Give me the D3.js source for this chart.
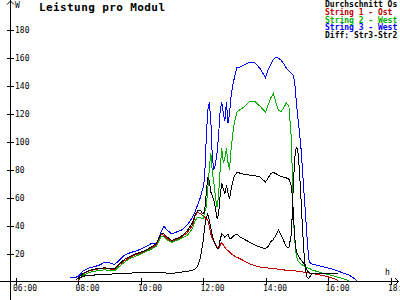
<!DOCTYPE html>
<html>
<head>
<meta charset="utf-8">
<script src="https://cdn.jsdelivr.net/npm/d3@7"></script>
<style>
  body { margin: 0; background: #fff; }
  svg { display: block; }
</style>
</head>
<body>
<script>
// data (W per module)
var times = ["07:45","07:50","07:55","08:00",
  "08:10","08:20","08:30","08:40","08:50","09:00","09:10","09:20","09:30","09:40","09:50",
  "10:00","10:10","10:20","10:30","10:35","10:40","10:45","10:50",
  "11:00","11:10","11:20","11:30","11:40","11:45","11:50","11:55","12:00",
  "12:03","12:06","12:09","12:12","12:15","12:18","12:21","12:24","12:27","12:30",
  "12:33","12:36","12:39","12:42","12:45","12:48","12:51","12:54","12:57",
  "13:00","13:05","13:10","13:20","13:30","13:40","13:50",
  "14:00","14:05","14:10","14:15","14:20","14:25","14:30","14:35","14:40","14:45",
  "14:50","14:53","14:56","14:59","15:02","15:05","15:08","15:11","15:14","15:17","15:20","15:23","15:26",
  "15:30","15:40","15:50","16:00","16:10","16:20","16:30","16:40","16:50","16:55"];

var string3 = [3,3,3,3.5,
  7.5,9.5,10.5,11.5,13.5,13.5,12,15.5,19,20.5,21.7,
  23,24.8,27,27,31,36,39.5,37,
  34,35.5,37,40.5,46,50,55,60,67,
  73,100,122,128,115,88,80,84,92,105,
  122,128,120,115,128,113,120,133,140,
  145,153,153,155,156.7,156,152,
  145.5,151,155,158.5,160,159.5,158,155.5,152.5,150.5,
  148.5,147.5,143,129,118,107,96,80,63,47,30,16,13,
  12.5,11.5,10.5,9.7,8.7,7.3,6,4.6,2.3,0.8];

var string2 = [null,null,null,1,
  4.5,6.3,7.2,7.8,8.3,8,7.6,11,14,16.4,18,
  19.5,21.2,23,25,28.5,32.5,32,30,
  28,29.5,31,33,38,43.6,46,45.5,44.5,
  49,53,65,80,92,78,70,60,53,62,
  80,95,85,88,95,85,80,95,105,
  113,121,122.5,125,128.8,128.5,125,
  121,126,131,134.5,128,122,121.5,124,127.5,125,
  100,50,30,19,15,13.5,12.5,11.8,11,10.5,10,9.5,9,
  8.2,7,6,5,4,3,2,0.5,null,null];

var string1 = [null,null,null,0.5,
  5.5,7.3,8.4,9,9,9,8.5,12.3,15,17.2,19,
  20.2,22,24,26,29.5,33.5,33,31,
  28.6,30.2,32,35,40,47,49.5,48.5,47,
  46,45,44,40,34,30.5,28.5,26.5,24.5,23.5,
  26,28,26,24.5,23,22,21,20,19,
  18.3,17.3,16.5,14.5,12.6,11.3,10.3,
  10,9.6,9.4,9.2,9,8.8,8.6,8.3,8,7.9,
  7.8,7.7,7.6,7.5,7.4,7.2,7,6.8,6.6,6.4,6.2,6.1,6,
  5.7,4.9,4.3,3.3,2.3,0.6,null,null,null,null];

var average = [null,null,0.8,2.5,
  5.7,7.6,8.7,9.4,9.7,9.5,9,12.8,16,18,19.8,
  21,22.3,24.5,27,30.5,34.5,34,32,
  29.3,30.8,32.7,36.5,42,48,50.5,51,48,
  50,62,74,72,64,61,58,52,45,48,
  62,70,66,62.6,68.6,63,59,66,71,
  75,78,77.5,76.5,76,75.5,74.5,
  71,74,77,78,77,75.7,75,74.5,74,73,
  68,52,32,22,19,17,15.5,14,12.5,10,8,6.5,6,
  6,6,6,6,6,6,null,null,null,null];

var diff = [null,null,null,2,
  3.8,4.3,4.6,4.8,5,5.2,5.5,5.7,5.9,6,6.2,
  6.4,6.6,6.6,6.5,6.5,6.4,6.4,6,
  5.5,6.4,6.8,7.3,8,9,11,17,28,
  38,45,48,44,38,33,29,26,24,23.5,
  30,34,33,31.6,33,34,31,30.5,32,
  33,34,32,30,28,26,24.5,
  23.5,25,28.5,30,33,37,33,29,25,24,
  35,65,88,96,94,80,60,38,20,8,3,2,4,
  5.5,6,6,6,6,6,null,null,null,null];

var legendLabels = ["Durchschnitt Os", "String 1 - Ost", "String 2 - West", "String 3 - West", "Diff: Str3-Str2"];
var legendColors = ["#000000", "#c00000", "#00b000", "#0000ff", "#000000"];

var xTicks = [6, 8, 10, 12, 14, 16, 18];
var xTickLabels = ["06:00", "08:00", "10:00", "12:00", "14:00", "16:00", "18:00"];
var yTicks = [20, 40, 60, 80, 100, 120, 140, 160, 180];

var width = 400, height = 300;
var mono = "'DejaVu Sans Mono', monospace";

function toHours(s){
  var p = s.split(":");
  return +p[0] + (+p[1]) / 60;
}

var svg = d3.select("body")
  .append("svg")
  .attr("width", width)
  .attr("height", height);

svg.append("rect")
  .attr("width", width)
  .attr("height", height)
  .attr("fill", "#ffffff");

var x = d3.scaleLinear().domain([6, 18]).range([15.5, 390.5]);
var y = d3.scaleLinear().domain([0, 180]).range([281.5, 29.5]);

// axes lines with arrows
var axes = svg.append("g")
  .attr("stroke", "#000")
  .attr("fill", "none")
  .attr("shape-rendering", "crispEdges");
axes.append("line").attr("x1", 10.5).attr("x2", 10.5).attr("y1", 0).attr("y2", height);
axes.append("line").attr("x1", 0).attr("x2", 399).attr("y1", 281.5).attr("y2", 281.5);
axes.append("path").attr("d", "M7,4.5L10.5,1L14,4.5").attr("shape-rendering", "auto");
axes.append("path").attr("d", "M395,278L398.5,281.5L395,285").attr("shape-rendering", "auto");

// y axis ticks
var yAxis = svg.append("g")
  .attr("transform", "translate(10.5,0)")
  .call(d3.axisLeft(y).tickValues(yTicks).tickSizeInner(3.5).tickSizeOuter(0));
yAxis.select(".domain").remove();
yAxis.selectAll(".tick line").attr("x2", 3.5).attr("x1", -3.5).attr("shape-rendering", "crispEdges");
yAxis.selectAll(".tick text")
  .attr("x", 4.5).attr("dy", 3)
  .attr("text-anchor", "start")
  .attr("font-family", mono).attr("font-size", 8).attr("fill", "#000");

// x axis ticks
var xAxis = svg.append("g")
  .attr("transform", "translate(0,281.5)")
  .call(d3.axisBottom(x).tickValues(xTicks).tickSizeOuter(0)
    .tickFormat(function(d, i){ return xTickLabels[i]; }));
xAxis.select(".domain").remove();
xAxis.selectAll(".tick line").attr("y1", -3.5).attr("y2", 3).attr("shape-rendering", "crispEdges");
xAxis.selectAll(".tick text")
  .attr("x", -3).attr("y", 9).attr("dy", 0)
  .attr("text-anchor", "start")
  .attr("font-family", mono).attr("font-size", 8).attr("fill", "#000");

// unit labels
svg.append("text").attr("x", 15).attr("y", 8)
  .attr("font-family", mono).attr("font-size", 8).text("W");
svg.append("text").attr("x", 385).attr("y", 275)
  .attr("font-family", mono).attr("font-size", 8).text("h");

// title
svg.append("text")
  .attr("x", 39).attr("y", 10.5)
  .attr("font-family", mono).attr("font-size", 11).attr("font-weight", "bold")
  .attr("textLength", 126).attr("lengthAdjust", "spacing")
  .text("Leistung pro Modul");

// data lines
var line = d3.line()
  .defined(function(d){ return d[1] != null; })
  .x(function(d){ return x(d[0]); })
  .y(function(d){ return y(d[1]); });

var series = [
  {values: string3, color: "#0000ff"},
  {values: string1, color: "#c00000"},
  {values: string2, color: "#00b000"},
  {values: average, color: "#000000"},
  {values: diff, color: "#000000"}
];

series.forEach(function(s){
  var pts = times.map(function(t, i){ return [toHours(t), s.values[i]]; });
  svg.append("path")
    .datum(pts)
    .attr("fill", "none")
    .attr("stroke", s.color)
    .attr("stroke-width", 1)
    .attr("shape-rendering", "crispEdges")
    .attr("d", line);
});

// legend
svg.selectAll(".legend")
  .data(legendLabels)
  .enter()
  .append("text")
  .attr("class", "legend")
  .attr("x", 325)
  .attr("y", function(d, i){ return 7 + i * 7.75; })
  .attr("font-family", mono)
  .attr("font-size", 8)
  .attr("font-weight", "bold")
  .attr("fill", function(d, i){ return legendColors[i]; })
  .text(function(d){ return d; });
</script>
</body>
</html>
